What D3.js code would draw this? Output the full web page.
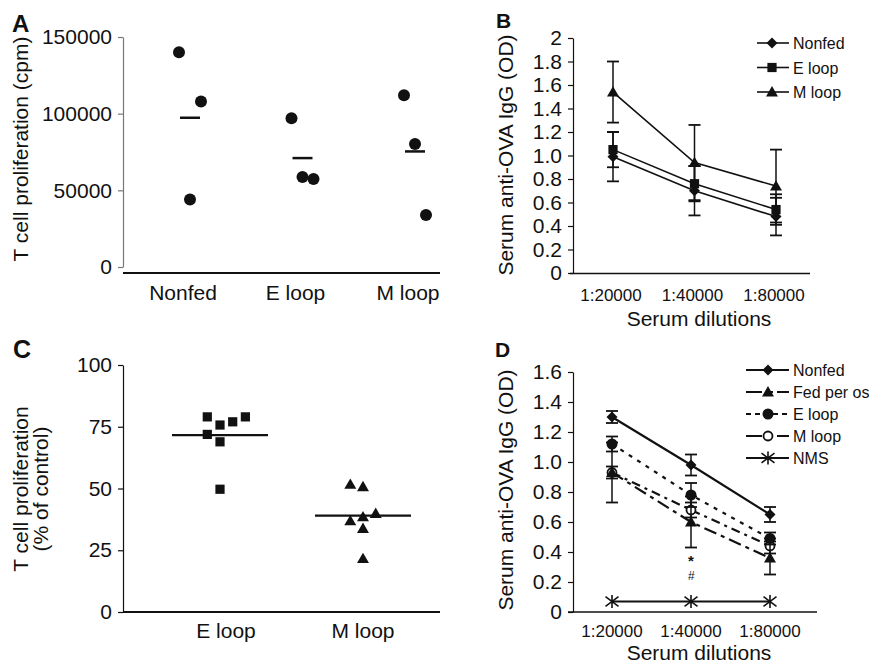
<!DOCTYPE html>
<html>
<head>
<meta charset="utf-8">
<script src="https://cdn.jsdelivr.net/npm/d3@7"></script>
<style>
body { margin: 0; background: #fff; }
svg { font-family: "Liberation Sans", Arial, Helvetica, sans-serif; }
</style>
</head>
<body>
<svg width="869" height="665"></svg>
<script>

// ---- panel A : T cell proliferation (cpm), one dot per mouse
var aGroups = ["Nonfed", "E loop", "M loop"];
var aNonfed = [140000, 108000, 44000];
var aEloop = [97000, 58700, 57400];
var aMloop = [112000, 80200, 33900];
var aTicks = [0, 50000, 100000, 150000];

// ---- panel B : serum anti-OVA IgG
var dilutions = ["1:20000", "1:40000", "1:80000"];
var bNonfed = [0.99, 0.70, 0.48];
var bNonfedErr = [0.21, 0.21, 0.16];
var bEloop = [1.05, 0.76, 0.54];
var bEloopErr = [0.15, 0.15, 0.13];
var bMloop = [1.54, 0.94, 0.74];
var bMloopErr = [0.26, 0.32, 0.31];
var bTicks = [0, 0.2, 0.4, 0.6, 0.8, 1.0, 1.2, 1.4, 1.6, 1.8, 2];

// ---- panel C : % of control
var cGroups = ["E loop", "M loop"];
var cEloop = [79, 75.7, 77, 79, 71.9, 68.9, 49.7];
var cMloop = [51.7, 50.7, 36.9, 38.5, 39.9, 33.8, 21.6];
var cTicks = [0, 25, 50, 75, 100];

// ---- panel D
var dNonfed = [1.30, 0.98, 0.65];
var dNonfedErr = [0.04, 0.07, 0.05];
var dFed = [0.93, 0.60, 0.36];
var dFedErr = [0.20, 0.17, 0.11];
var dEloop = [1.12, 0.78, 0.49];
var dEloopErr = [0.05, 0.08, 0.04];
var dMloop = [0.93, 0.68, 0.44];
var dMloopErr = [0.04, 0.05, 0.05];
var dNMS = [0.07, 0.07, 0.07];
var dNMSErr = [0.01, 0.01, 0.01];
var dTicks = [0, 0.2, 0.4, 0.6, 0.8, 1.0, 1.2, 1.4, 1.6];

// horizontal jitter columns for the dot plots (layout only)
var aSlots = [[-1, 1, 0], [-1, 0, 1], [-1, 0, 1]];
var cSlots = [[-1, 0, 1, 2, -1, 0, 0], [-1, 0, -1, 0, 1, 0, 0]];

var svg = d3.select("svg");
var ink = "#111";

function fmtOD(d) { return (d == 0 || d == 2) ? d3.format("d")(d) : d.toFixed(1); }

function leftAxis(x, scale, ticks, fmt, color) {
  var g = svg.append("g")
    .attr("transform", "translate(" + x + ",0)")
    .call(d3.axisLeft(scale).tickValues(ticks).tickSize(5).tickSizeOuter(0).tickPadding(6).tickFormat(fmt));
  g.selectAll("path,line").attr("stroke", color || ink).attr("stroke-width", 1.2);
  g.selectAll("text").attr("font-size", 21).attr("fill", ink).attr("font-family", null);
  return g;
}

function yTitle(x, y, lines) {
  var t = svg.append("text").attr("transform", "translate(" + x + "," + y + ") rotate(-90)")
    .attr("text-anchor", "middle").attr("font-size", 21).attr("fill", ink);
  lines.forEach(function (l, i) {
    t.append("tspan").attr("x", 0).attr("dy", i == 0 ? 0 : 20).text(l);
  });
}

function panelLetter(x, y, s, size) {
  svg.append("text").attr("x", x).attr("y", y).attr("font-size", size)
    .attr("font-weight", "bold").attr("fill", ink).text(s);
}

// marker shapes
function marker(g, type, cx, cy) {
  if (type == "diamond") {
    g.append("path").attr("d", d3.symbol(d3.symbolSquare, 60)())
      .attr("transform", "translate(" + cx + "," + cy + ") rotate(45)").attr("fill", ink);
  } else if (type == "square") {
    g.append("path").attr("d", d3.symbol(d3.symbolSquare, 85)())
      .attr("transform", "translate(" + cx + "," + cy + ")").attr("fill", ink);
  } else if (type == "triangle") {
    g.append("path").attr("d", d3.symbol(d3.symbolTriangle, 62)())
      .attr("transform", "translate(" + cx + "," + (cy + 1) + ")").attr("fill", ink);
  } else if (type == "circle") {
    g.append("circle").attr("cx", cx).attr("cy", cy).attr("r", 5.5).attr("fill", ink);
  } else if (type == "ocircle") {
    g.append("circle").attr("cx", cx).attr("cy", cy).attr("r", 4.5)
      .attr("fill", "#fff").attr("stroke", ink).attr("stroke-width", 1.8);
  } else if (type == "asterisk") {
    var r = 6.5;
    g.append("path")
      .attr("d", "M" + cx + "," + (cy - r) + "V" + (cy + r) +
        "M" + (cx - r) + "," + (cy - r * 0.75) + "L" + (cx + r) + "," + (cy + r * 0.75) +
        "M" + (cx - r) + "," + (cy + r * 0.75) + "L" + (cx + r) + "," + (cy - r * 0.75))
      .attr("stroke", ink).attr("stroke-width", 1.6).attr("fill", "none");
  }
}

function errBars(g, x, y, vals, errs) {
  vals.forEach(function (v, i) {
    var px = x(dilutions[i]);
    g.append("line").attr("x1", px).attr("x2", px)
      .attr("y1", y(v - errs[i])).attr("y2", y(v + errs[i]))
      .attr("stroke", ink).attr("stroke-width", 1.5);
    [v - errs[i], v + errs[i]].forEach(function (e) {
      g.append("line").attr("x1", px - 6).attr("x2", px + 6)
        .attr("y1", y(e)).attr("y2", y(e)).attr("stroke", ink).attr("stroke-width", 1.8);
    });
  });
}

// ================= A =================
function panelA() {
  var y = d3.scaleLinear().domain([0, 150000]).range([267, 37]);
  var x = d3.scalePoint().domain(aGroups).range([190, 415]);
  var step = 11;
  var sets = [aNonfed, aEloop, aMloop];

  leftAxis(123, y, aTicks, d3.format("d"), "#777");
  svg.append("line").attr("x1", 123).attr("x2", 440).attr("y1", 273).attr("y2", 273)
    .attr("stroke", ink).attr("stroke-width", 2);

  var g = svg.append("g");
  sets.forEach(function (vals, k) {
    var cx = x(aGroups[k]);
    g.selectAll(null).data(vals).join("circle")
      .attr("cx", function (d, i) { return cx + aSlots[k][i] * step; })
      .attr("cy", function (d) { return y(d); })
      .attr("r", 6).attr("fill", ink);
    var m = d3.mean(vals);
    g.append("line").attr("x1", cx - 10).attr("x2", cx + 10)
      .attr("y1", y(m)).attr("y2", y(m)).attr("stroke", ink).attr("stroke-width", 2.5);
    svg.append("text").attr("x", cx - 7).attr("y", 300).attr("text-anchor", "middle")
      .attr("font-size", 21).attr("fill", ink).text(aGroups[k]);
  });

  yTitle(28, 149, ["T cell proliferation (cpm)"]);
  panelLetter(12, 32, "A", 24);
}

// ================= B =================
function panelB() {
  var y = d3.scaleLinear().domain([0, 2]).range([273, 38]);
  var x = d3.scalePoint().domain(dilutions).range([613, 776]);
  var series = [
    { name: "Nonfed", vals: bNonfed, err: bNonfedErr, sym: "diamond" },
    { name: "E loop", vals: bEloop, err: bEloopErr, sym: "square" },
    { name: "M loop", vals: bMloop, err: bMloopErr, sym: "triangle" }
  ];

  leftAxis(573, y, bTicks, fmtOD);
  svg.append("line").attr("x1", 570).attr("x2", 810).attr("y1", 273.5).attr("y2", 273.5)
    .attr("stroke", ink).attr("stroke-width", 1.5);

  var line = d3.line().x(function (d, i) { return x(dilutions[i]); }).y(function (d) { return y(d); });
  var g = svg.append("g");
  series.forEach(function (s) {
    g.append("path").attr("d", line(s.vals)).attr("fill", "none")
      .attr("stroke", ink).attr("stroke-width", 1.6);
    errBars(g, x, y, s.vals, s.err);
    s.vals.forEach(function (v, i) { marker(g, s.sym, x(dilutions[i]), y(v)); });
  });

  dilutions.forEach(function (d) {
    svg.append("text").attr("x", x(d) - 2).attr("y", 301).attr("text-anchor", "middle")
      .attr("font-size", 17).attr("fill", ink).text(d);
  });
  svg.append("text").attr("x", 699).attr("y", 326).attr("text-anchor", "middle")
    .attr("font-size", 21).attr("fill", ink).text("Serum dilutions");

  // legend
  var lg = svg.append("g");
  series.forEach(function (s, i) {
    var ly = 43 + i * 24.5;
    lg.append("line").attr("x1", 757).attr("x2", 789).attr("y1", ly).attr("y2", ly)
      .attr("stroke", ink).attr("stroke-width", 1.6);
    marker(lg, s.sym, 772, ly);
    lg.append("text").attr("x", 793).attr("y", ly + 6).attr("font-size", 16)
      .attr("fill", ink).text(s.name);
  });

  yTitle(513, 155, ["Serum anti-OVA IgG (OD)"]);
  panelLetter(496, 28, "B", 21);
}

// ================= C =================
function panelC() {
  var y = d3.scaleLinear().domain([0, 100]).range([612, 365]);
  var x = d3.scalePoint().domain(cGroups).range([220, 363]);
  var step = 12.7;
  var sets = [cEloop, cMloop];
  var syms = ["square", "triangle"];

  leftAxis(123, y, cTicks, d3.format("d"));
  svg.append("line").attr("x1", 123).attr("x2", 440).attr("y1", 612).attr("y2", 612)
    .attr("stroke", ink).attr("stroke-width", 2);

  var g = svg.append("g");
  sets.forEach(function (vals, k) {
    var cx = x(cGroups[k]);
    vals.forEach(function (v, i) { marker(g, syms[k], cx + cSlots[k][i] * step, y(v)); });
    var m = d3.mean(vals);
    g.append("line").attr("x1", cx - 48).attr("x2", cx + 48)
      .attr("y1", y(m)).attr("y2", y(m)).attr("stroke", ink).attr("stroke-width", 2.2);
    svg.append("text").attr("x", cx + (k == 0 ? 6 : 0)).attr("y", 638).attr("text-anchor", "middle")
      .attr("font-size", 21).attr("fill", ink).text(cGroups[k]);
  });

  yTitle(28, 489, ["T cell proliferation", "(% of control)"]);
  panelLetter(13, 358, "C", 25);
}

// ================= D =================
function panelD() {
  var y = d3.scaleLinear().domain([0, 1.6]).range([612, 372]);
  var x = d3.scalePoint().domain(dilutions).range([612, 770]);
  var series = [
    { name: "Nonfed", vals: dNonfed, err: dNonfedErr, sym: "diamond", dash: null, leg: null },
    { name: "Fed per os", vals: dFed, err: dFedErr, sym: "triangle", dash: "13,5,4,5", leg: "16,6,5,4" },
    { name: "E loop", vals: dEloop, err: dEloopErr, sym: "circle", dash: "4,6", leg: "5,4" },
    { name: "M loop", vals: dMloop, err: dMloopErr, sym: "ocircle", dash: "9,5,3,5", leg: "16,6,5,4" },
    { name: "NMS", vals: dNMS, err: dNMSErr, sym: "asterisk", dash: null, leg: null }
  ];
  var drawOrder = [3, 1, 2, 0, 4];

  leftAxis(573, y, dTicks, fmtOD);
  svg.append("line").attr("x1", 568).attr("x2", 817).attr("y1", 612).attr("y2", 612)
    .attr("stroke", ink).attr("stroke-width", 1.5);

  var line = d3.line().x(function (d, i) { return x(dilutions[i]); }).y(function (d) { return y(d); });
  var g = svg.append("g");
  drawOrder.forEach(function (k) {
    var s = series[k];
    g.append("path").attr("d", line(s.vals)).attr("fill", "none")
      .attr("stroke", ink).attr("stroke-width", 2.2).attr("stroke-dasharray", s.dash);
  });
  drawOrder.forEach(function (k) {
    var s = series[k];
    if (s.name != "NMS") errBars(g, x, y, s.vals, s.err);
    s.vals.forEach(function (v, i) { marker(g, s.sym, x(dilutions[i]), y(v)); });
  });

  // significance marks under Fed per os at 1:40000
  var fx = x(dilutions[1]), fy = y(dFed[1] - dFedErr[1]);
  svg.append("text").attr("x", fx).attr("y", fy + 18).attr("text-anchor", "middle")
    .attr("font-size", 15).attr("font-weight", "bold").attr("fill", ink).text("*");
  svg.append("text").attr("x", fx).attr("y", fy + 32).attr("text-anchor", "middle")
    .attr("font-size", 12).attr("font-style", "italic").attr("fill", ink).text("#");

  dilutions.forEach(function (d) {
    svg.append("text").attr("x", x(d)).attr("y", 636.5).attr("text-anchor", "middle")
      .attr("font-size", 17).attr("fill", ink).text(d);
  });
  svg.append("text").attr("x", 699).attr("y", 660).attr("text-anchor", "middle")
    .attr("font-size", 21).attr("fill", ink).text("Serum dilutions");

  var lg = svg.append("g");
  series.forEach(function (s, i) {
    var ly = 370 + i * 22;
    lg.append("line").attr("x1", 746).attr("x2", 789).attr("y1", ly).attr("y2", ly)
      .attr("stroke", ink).attr("stroke-width", 2).attr("stroke-dasharray", s.leg);
    marker(lg, s.sym, 768, ly);
    lg.append("text").attr("x", 793).attr("y", ly + 6).attr("font-size", 16)
      .attr("fill", ink).text(s.name);
  });

  yTitle(513, 490, ["Serum anti-OVA IgG (OD)"]);
  panelLetter(495, 357, "D", 21);
}

panelA();
panelB();
panelC();
panelD();
</script>
</body>
</html>
